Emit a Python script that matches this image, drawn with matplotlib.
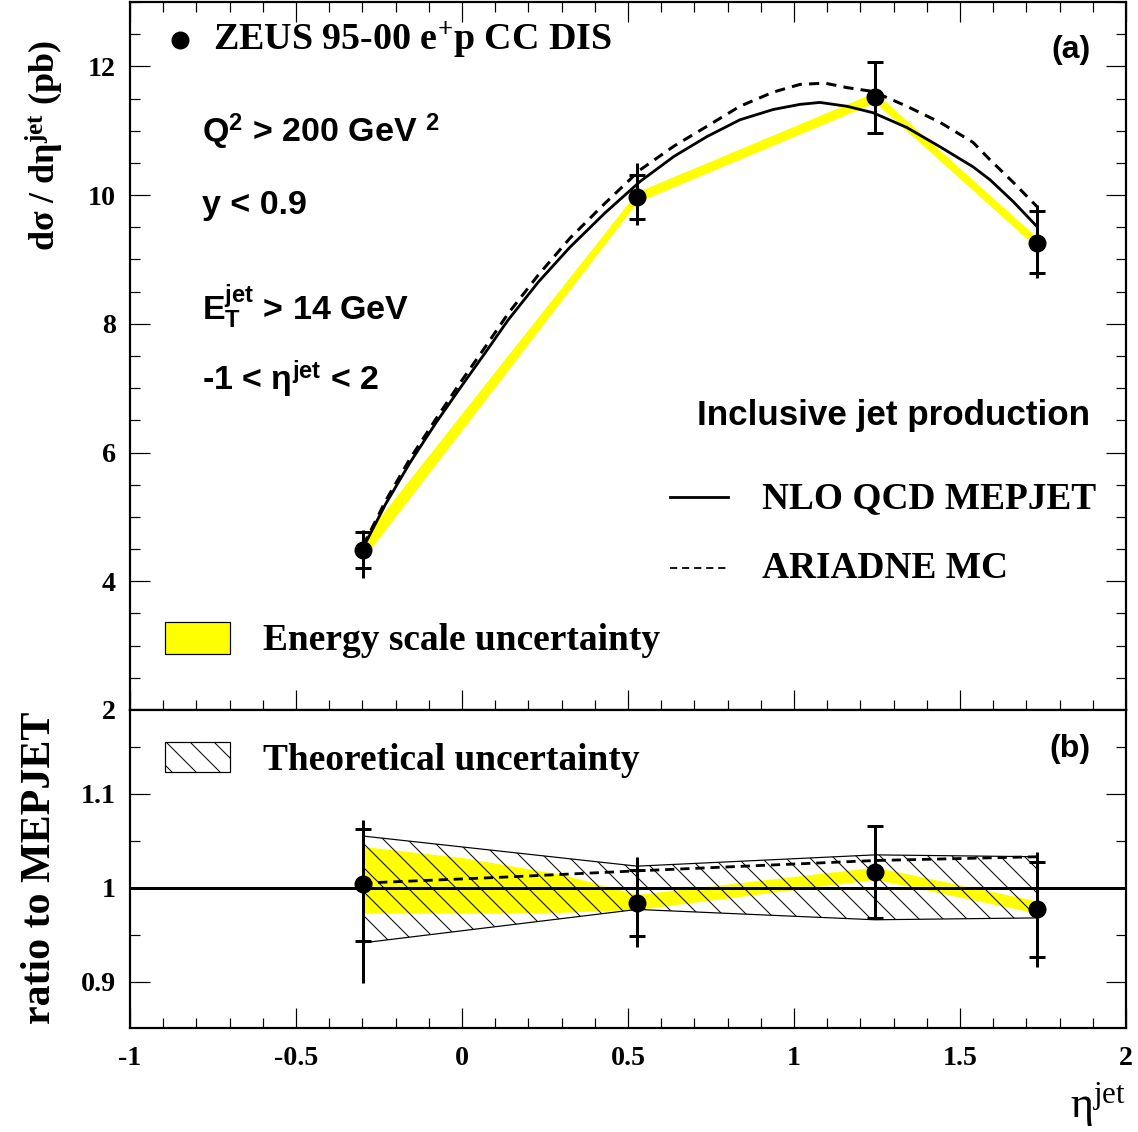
import matplotlib
matplotlib.use("Agg")
import matplotlib.pyplot as plt
from matplotlib.patches import Rectangle
from matplotlib.ticker import MultipleLocator

plt.rcParams['mathtext.fontset'] = 'custom'
plt.rcParams['mathtext.rm'] = 'Liberation Sans:bold'
plt.rcParams['mathtext.sf'] = 'Liberation Sans:bold'
plt.rcParams['mathtext.bf'] = 'Liberation Serif:bold'
plt.rcParams['mathtext.it'] = 'Liberation Serif'
plt.rcParams['hatch.linewidth'] = 0.5

SERIF = 'Liberation Serif'
SANS = 'Liberation Sans'

# ZEUS data points
eta = [-0.298, 0.527, 1.244, 1.732]
xsec = [4.49, 9.97, 11.52, 9.26]
stat_up = [0.28, 0.34, 0.55, 0.50]
stat_dn = [0.28, 0.34, 0.55, 0.47]
tot_up = [0.31, 0.53, 0.55, 0.59]
tot_dn = [0.44, 0.44, 0.55, 0.55]
# energy scale band (top)
escale_hi = [4.67, 10.05, 11.60, 9.34]
escale_lo = [4.35, 9.89, 11.44, 9.18]

# NLO QCD MEPJET curve
nlo_x = [-0.298, -0.23, -0.157, -0.08, -0.006, 0.07, 0.139, 0.23, 0.325, 0.43,
         0.536, 0.638, 0.738, 0.837, 0.937, 1.018, 1.078, 1.16, 1.238, 1.34,
         1.44, 1.539, 1.59, 1.66, 1.732]
nlo_y = [4.52, 5.20, 5.84, 6.45, 7.00, 7.55, 8.06, 8.65, 9.19, 9.72,
         10.21, 10.60, 10.91, 11.17, 11.33, 11.41, 11.44, 11.38, 11.28, 11.05,
         10.75, 10.44, 10.24, 9.90, 9.51]
# ARIADNE MC curve
ari_x = [-0.298, -0.23, -0.157, -0.08, -0.006, 0.07, 0.139, 0.23, 0.325, 0.43,
         0.536, 0.638, 0.738, 0.837, 0.937, 1.018, 1.093, 1.16, 1.238, 1.34,
         1.44, 1.539, 1.59, 1.66, 1.732]
ari_y = [4.55, 5.25, 5.90, 6.51, 7.08, 7.64, 8.16, 8.76, 9.33, 9.87,
         10.39, 10.76, 11.07, 11.38, 11.60, 11.72, 11.74, 11.67, 11.61, 11.38,
         11.13, 10.82, 10.55, 10.20, 9.82]

# ratio panel
ratio = [1.004, 0.984, 1.017, 0.977]
rstat_up = [0.059, 0.035, 0.049, 0.050]
rstat_dn = [0.061, 0.035, 0.049, 0.051]
rtot_up = [0.068, 0.049, 0.049, 0.061]
rtot_dn = [0.105, 0.047, 0.049, 0.061]
theo_hi = [1.055, 1.023, 1.035, 1.033]
theo_lo = [0.9415, 0.977, 0.966, 0.968]
rband_x = [-0.298, 0.003, 0.304, 0.527, 1.244, 1.732]
rband_hi = [1.044, 1.032, 1.014, 0.993, 1.022, 0.986]
rband_lo = [0.973, 0.973, 0.974, 0.977, 1.009, 0.973]
ari_r_x = [-0.298, 0.105, 0.527, 1.244, 1.732]
ari_r = [1.005, 1.011, 1.018, 1.029, 1.033]

xticks = [-1, -0.5, 0, 0.5, 1, 1.5, 2]
xticklabels = ['-1', '-0.5', '0', '0.5', '1', '1.5', '2']
top_yticks = [2, 4, 6, 8, 10, 12]
bot_yticks = [0.9, 1.0, 1.1]
bot_yticklabels = ['0.9', '1', '1.1']

fig = plt.figure(figsize=(1138 / 144, 1132 / 144), dpi=144)
ax = fig.add_axes([0.1142, 0.3728, 0.8753, 0.6254])
bx = fig.add_axes([0.1142, 0.0919, 0.8753, 0.2809])

tickfont = dict(fontfamily=SERIF, fontweight='bold', fontsize=14)

for a in (ax, bx):
    a.set_xlim(-1, 2)
    a.xaxis.set_minor_locator(MultipleLocator(0.1))
    a.set_xticks(xticks)
    for s in a.spines.values():
        s.set_linewidth(1.1)
    a.tick_params(which='major', direction='in', length=10, width=0.6)
    a.tick_params(which='minor', direction='in', length=5, width=0.6)

# ---- top panel
ax.set_ylim(2, 13.0)
ax.set_yticks(top_yticks)
ax.set_yticklabels([str(t) for t in top_yticks], **tickfont)
ax.yaxis.set_minor_locator(MultipleLocator(0.5))
ax.tick_params(which='both', top=True, right=True, bottom=True, labelbottom=False, pad=7)

ax.fill_between(eta, escale_lo, escale_hi, color='#ffff00', lw=0, zorder=1)
ax.plot(nlo_x, nlo_y, color='k', lw=1.4, zorder=2)
ax.plot(ari_x, ari_y, color='k', lw=1.5, dashes=(3.4, 2.4), zorder=2)
ax.errorbar(eta, xsec, yerr=[tot_dn, tot_up], fmt='none', ecolor='k',
            elinewidth=1.5, capsize=0, zorder=3)
ax.errorbar(eta, xsec, yerr=[stat_dn, stat_up], fmt='o', color='k', ms=8,
            elinewidth=1.5, capsize=4, capthick=1.5, zorder=4)

ax.plot([0.0502], [0.9463], 'o', color='k', ms=8, transform=ax.transAxes, clip_on=False)
ax.text(0.0833, 0.9322, 'ZEUS 95-00 e$^{\\mathbf{+}}$p CC DIS', transform=ax.transAxes,
        fontfamily=SERIF, fontweight='bold', fontsize=19, va='baseline')
ax.text(0.964, 0.921, '(a)', transform=ax.transAxes, fontfamily=SANS,
        fontweight='bold', fontsize=16, ha='right', va='baseline')
sans = dict(transform=ax.transAxes, fontfamily=SANS, fontweight='bold',
            fontsize=17, va='baseline')
ax.text(0.0723, 0.8023, 'Q$^{\\mathsf{2}}$ > 200 GeV $^{\\mathsf{2}}$', **sans)
ax.text(0.0723, 0.7006, 'y < 0.9', **sans)
ax.text(0.0723, 0.5508, 'E$_{\\mathsf{T}}^{\\mathsf{jet}}$ > 14 GeV', **sans)
ax.text(0.0723, 0.452, '-1 < \u03b7$^{\\mathsf{jet}}$ < 2', **sans)
ax.text(0.9639, 0.4025, 'Inclusive jet production', transform=ax.transAxes,
        fontfamily=SANS, fontweight='bold', fontsize=17.5, ha='right', va='baseline')

serif = dict(transform=ax.transAxes, fontfamily=SERIF, fontweight='bold',
             fontsize=18.7, va='baseline')
ax.plot([0.542, 0.600], [0.3008, 0.3008], color='k', lw=1.4, transform=ax.transAxes)
ax.text(0.6345, 0.2853, 'NLO QCD MEPJET', **serif)
ax.plot([0.542, 0.600], [0.2006, 0.2006], color='k', lw=0.9, dashes=(4, 2.7),
        transform=ax.transAxes)
ax.text(0.6345, 0.1864, 'ARIADNE MC', **serif)
ax.add_patch(Rectangle((0.0351, 0.079), 0.0653, 0.045, transform=ax.transAxes,
                       facecolor='#ffff00', edgecolor='k', lw=0.6))
ax.text(0.1335, 0.0847, 'Energy scale uncertainty', **serif)

# ---- bottom panel
bx.set_ylim(0.851, 1.189)
bx.set_yticks(bot_yticks)
bx.set_yticklabels(bot_yticklabels, **tickfont)
bx.yaxis.set_minor_locator(MultipleLocator(0.05))
bx.set_xticklabels(xticklabels, **tickfont)
bx.tick_params(which='both', top=False, right=True, pad=7)
bx.tick_params(axis='x', which='major', pad=9)

bx.fill_between(rband_x, rband_lo, rband_hi, color='#ffff00', lw=0, zorder=1)
bx.fill_between(eta, theo_lo, theo_hi, facecolor='none', edgecolor='k',
                hatch='\\\\', lw=0.6, zorder=2)
bx.axhline(1.0, color='k', lw=1.5, zorder=3)
bx.plot(ari_r_x, ari_r, color='k', lw=1.4, dashes=(3.3, 2.1), zorder=3)
bx.errorbar(eta, ratio, yerr=[rtot_dn, rtot_up], fmt='none', ecolor='k',
            elinewidth=1.5, capsize=0, zorder=4)
bx.errorbar(eta, ratio, yerr=[rstat_dn, rstat_up], fmt='o', color='k', ms=8,
            elinewidth=1.5, capsize=4, capthick=1.5, zorder=5)

bx.add_patch(Rectangle((0.0351, 0.805), 0.0653, 0.094, transform=bx.transAxes,
                       facecolor='none', edgecolor='k', hatch='\\\\', lw=0.6))
bx.text(0.1335, 0.811, 'Theoretical uncertainty', transform=bx.transAxes,
        fontfamily=SERIF, fontweight='bold', fontsize=18.7, va='baseline')
bx.text(0.964, 0.852, '(b)', transform=bx.transAxes, fontfamily=SANS,
        fontweight='bold', fontsize=16, ha='right', va='baseline')

# axis titles
fig.text(0.0395, 0.9647, 'd\u03c3 / d\u03b7$^{\\mathbf{jet}}$ (pb)', rotation=90,
         ha='center', va='top', fontfamily=SERIF, fontweight='bold', fontsize=18)
fig.text(0.0351, 0.371, 'ratio to MEPJET', rotation=90, ha='center', va='top',
         fontfamily=SERIF, fontweight='bold', fontsize=21)
fig.text(0.9895, 0.003, '\u03b7$^{\\mathit{jet}}$', ha='right', va='bottom',
         fontfamily=SERIF, fontsize=22)

fig.savefig('out.png', dpi=144)
